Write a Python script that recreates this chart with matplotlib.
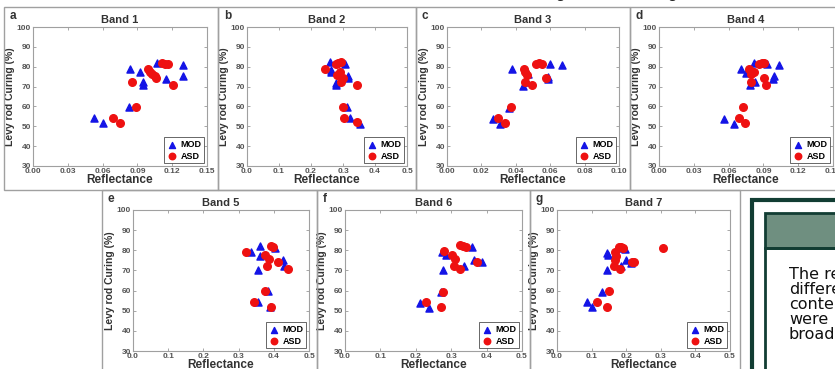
import numpy as np
import matplotlib.pyplot as plt
from matplotlib.patches import Rectangle

# ===========================
# Data (reflectance vs Levy rod curing %)
mod1_x = [0.053, 0.060, 0.083, 0.084, 0.092, 0.095, 0.095, 0.107, 0.115, 0.129, 0.129]
mod1_y = [54.0, 51.5, 59.5, 78.8, 77.2, 72.2, 70.6, 82.0, 74.0, 81.0, 75.5]
asd1_x = [0.069, 0.075, 0.085, 0.089, 0.099, 0.101, 0.103, 0.105, 0.106, 0.111, 0.114, 0.116, 0.121]
asd1_y = [54.4, 51.7, 72.2, 59.7, 79.0, 77.5, 76.2, 75.2, 74.2, 82.0, 81.6, 81.4, 70.7]

mod2_x = [0.259, 0.263, 0.264, 0.277, 0.277, 0.307, 0.315, 0.315, 0.313, 0.321, 0.354]
mod2_y = [82.2, 78.5, 77.2, 72.0, 70.7, 81.3, 75.4, 74.2, 59.6, 54.4, 51.3]
asd2_x = [0.244, 0.277, 0.284, 0.293, 0.290, 0.281, 0.300, 0.294, 0.345, 0.300, 0.303, 0.343]
asd2_y = [79.1, 81.6, 81.8, 82.2, 77.3, 75.6, 74.1, 72.2, 70.9, 59.9, 54.4, 52.0]

mod3_x = [0.027, 0.031, 0.036, 0.038, 0.044, 0.0465, 0.047, 0.060, 0.067, 0.0588, 0.0585]
mod3_y = [53.9, 51.3, 59.2, 78.8, 70.4, 72.1, 76.2, 81.2, 81.1, 75.0, 73.8]
asd3_x = [0.0297, 0.0337, 0.037, 0.045, 0.0455, 0.0465, 0.0455, 0.0495, 0.0515, 0.0535, 0.055, 0.0574]
asd3_y = [54.2, 51.7, 59.6, 78.8, 77.3, 75.7, 72.1, 70.6, 81.6, 81.9, 81.4, 74.3]

mod4_x = [0.0563, 0.0647, 0.0707, 0.075, 0.0784, 0.0825, 0.0822, 0.0928, 0.098, 0.099, 0.1034]
mod4_y = [53.9, 51.3, 78.7, 77.0, 70.6, 72.3, 82.0, 81.5, 73.8, 75.2, 81.0]
asd4_x = [0.0687, 0.0739, 0.072, 0.0773, 0.079, 0.079, 0.0822, 0.0865, 0.0888, 0.0908, 0.0908, 0.092]
asd4_y = [54.4, 51.8, 59.7, 79.0, 76.2, 72.5, 77.3, 81.5, 81.9, 81.9, 74.3, 70.6]

mod5_x = [0.336, 0.362, 0.360, 0.354, 0.355, 0.384, 0.388, 0.404, 0.426, 0.429]
mod5_y = [79.0, 81.9, 77.0, 70.3, 54.2, 59.6, 51.7, 81.0, 75.3, 72.3]
asd5_x = [0.320, 0.344, 0.376, 0.393, 0.392, 0.398, 0.374, 0.386, 0.380, 0.412, 0.440]
asd5_y = [79.0, 54.2, 59.6, 51.8, 81.9, 81.4, 77.5, 75.7, 72.3, 74.3, 70.6]

mod6_x = [0.212, 0.236, 0.272, 0.275, 0.286, 0.276, 0.337, 0.360, 0.363, 0.387]
mod6_y = [53.7, 51.5, 59.2, 79.2, 77.5, 70.3, 72.4, 81.4, 75.4, 74.1]
asd6_x = [0.228, 0.271, 0.278, 0.281, 0.302, 0.312, 0.308, 0.325, 0.324, 0.333, 0.342, 0.373]
asd6_y = [54.2, 51.7, 59.5, 79.5, 77.8, 75.8, 72.4, 70.7, 82.5, 82.0, 81.7, 74.4]

mod7_x = [0.087, 0.100, 0.130, 0.144, 0.148, 0.145, 0.185, 0.190, 0.196, 0.200, 0.215]
mod7_y = [54.1, 51.6, 59.4, 78.9, 77.5, 70.3, 72.1, 81.3, 80.8, 75.1, 73.6]
asd7_x = [0.115, 0.144, 0.150, 0.166, 0.167, 0.170, 0.169, 0.178, 0.185, 0.190, 0.183, 0.222, 0.218, 0.307]
asd7_y = [54.4, 51.6, 59.6, 72.1, 79.1, 77.1, 75.3, 81.8, 81.5, 81.0, 70.5, 74.1, 74.0, 81.2]

bands = ['Band 1', 'Band 2', 'Band 3', 'Band 4', 'Band 5', 'Band 6', 'Band 7']
letters = ['a', 'b', 'c', 'd', 'e', 'f', 'g']
x_max = [0.15, 0.5, 0.10, 0.15, 0.5, 0.5, 0.5]
x_step = [0.03, 0.1, 0.02, 0.03, 0.1, 0.1, 0.1]
x_fmt = ['%.2f', '%.1f', '%.2f', '%.2f', '%.1f', '%.1f', '%.1f']
mod_x = [mod1_x, mod2_x, mod3_x, mod4_x, mod5_x, mod6_x, mod7_x]
mod_y = [mod1_y, mod2_y, mod3_y, mod4_y, mod5_y, mod6_y, mod7_y]
asd_x = [asd1_x, asd2_x, asd3_x, asd4_x, asd5_x, asd6_x, asd7_x]
asd_y = [asd1_y, asd2_y, asd3_y, asd4_y, asd5_y, asd6_y, asd7_y]

# ===========================
W, H = 835, 369
fig = plt.figure(figsize=(W / 100, H / 100), dpi=100)
plt.rcParams['font.family'] = ['Liberation Sans', 'DejaVu Sans']

def box(x0, y0, x1, y1):
    # pixel box (top-left origin) -> figure fraction rect
    return [x0 / W, 1 - y1 / H, (x1 - x0) / W, (y1 - y0) / H]

# panel frames (pixels)
frames = [(4, 7, 218, 190), (218, 7, 416, 190), (416, 7, 630, 190), (630, 7, 845, 190),
          (102, 190, 317, 380), (317, 190, 530, 380), (530, 190, 740, 380)]
axes_px = [(33, 27, 207, 166), (247, 27, 407, 166), (447, 27, 619, 166), (659, 27, 833, 166),
           (133, 210, 309, 351), (345, 210, 522, 351), (557, 210, 730, 351)]

for fr in frames:
    r = box(*fr)
    fig.add_artist(Rectangle((r[0], r[1]), r[2], r[3], transform=fig.transFigure,
                             fill=False, edgecolor='#a0a0a0', linewidth=1.0))

for i in range(7):
    ax = fig.add_axes(box(*axes_px[i]))
    ax.scatter(mod_x[i], mod_y[i], marker='^', s=26, c='#1414e6', label='MOD', zorder=3)
    ax.scatter(asd_x[i], asd_y[i], marker='o', s=30, c='#ee1111', label='ASD', zorder=3)
    ax.set_xlim(0, x_max[i])
    ax.set_ylim(30, 100)
    ticks = np.arange(0, x_max[i] + 1e-9, x_step[i])
    ax.set_xticks(ticks)
    ax.set_xticklabels([x_fmt[i] % t for t in ticks])
    ax.set_yticks(np.arange(30, 101, 10))
    ax.tick_params(direction='in', length=2, width=0.6, color='#999999', top=True, right=True,
                   labelsize=6, labelcolor='#555555', pad=1.5)
    for lab in ax.get_xticklabels() + ax.get_yticklabels():
        lab.set_fontweight('bold')
    for sp in ax.spines.values():
        sp.set_color('#a0a0a0')
        sp.set_linewidth(0.8)
    ax.set_xlabel('Reflectance', fontsize=8.5, fontweight='bold', color='#333333', labelpad=-0.5)
    ax.set_ylabel('Levy rod Curing (%)', fontsize=7.5, fontweight='bold', color='#333333', labelpad=1.5)
    ax.set_title(bands[i], fontsize=8, fontweight='bold', color='#333333', pad=3)
    leg = ax.legend(loc='lower right', frameon=True, fancybox=False,
                    borderaxespad=0.3, handletextpad=0.3, borderpad=0.3,
                    labelspacing=0.3, handlelength=1.2, markerscale=0.85,
                    prop={'weight': 'bold', 'size': 6.5})
    leg.get_frame().set_edgecolor('#222222')
    leg.get_frame().set_linewidth(0.6)
    fr = frames[i]
    fig.text((fr[0] + 6) / W, 1 - (fr[1] + 9) / H, letters[i], fontsize=8.5, fontweight='bold',
             color='#333333', va='center', ha='left')

# caption fragments cut off at top
fig.text(560 / W, 1 + 2 / H, 'g', fontsize=12, va='baseline', ha='center', color='#222222')
fig.text(672 / W, 1 + 2 / H, 'g', fontsize=12, va='baseline', ha='center', color='#222222')

# text box at bottom right
r = box(752, 200, 900, 400)
fig.add_artist(Rectangle((r[0], r[1]), r[2], r[3], transform=fig.transFigure,
                         fill=False, edgecolor='#123d33', linewidth=3))
r = box(765, 213, 900, 248)
fig.add_artist(Rectangle((r[0], r[1]), r[2], r[3], transform=fig.transFigure,
                         facecolor='#6f8f80', edgecolor='#123d33', linewidth=2))
r = box(765, 248, 900, 400)
fig.add_artist(Rectangle((r[0], r[1]), r[2], r[3], transform=fig.transFigure,
                         fill=False, edgecolor='#123d33', linewidth=2))
lines = ['The results', 'differences', 'content', 'were', 'broadband']
for k, t in enumerate(lines):
    fig.text(789 / W, 1 - (279 + 15 * k) / H, t, fontsize=11.5, family='DejaVu Sans',
             color='#111111', va='baseline', ha='left')

fig.savefig('out.png', dpi=100)
